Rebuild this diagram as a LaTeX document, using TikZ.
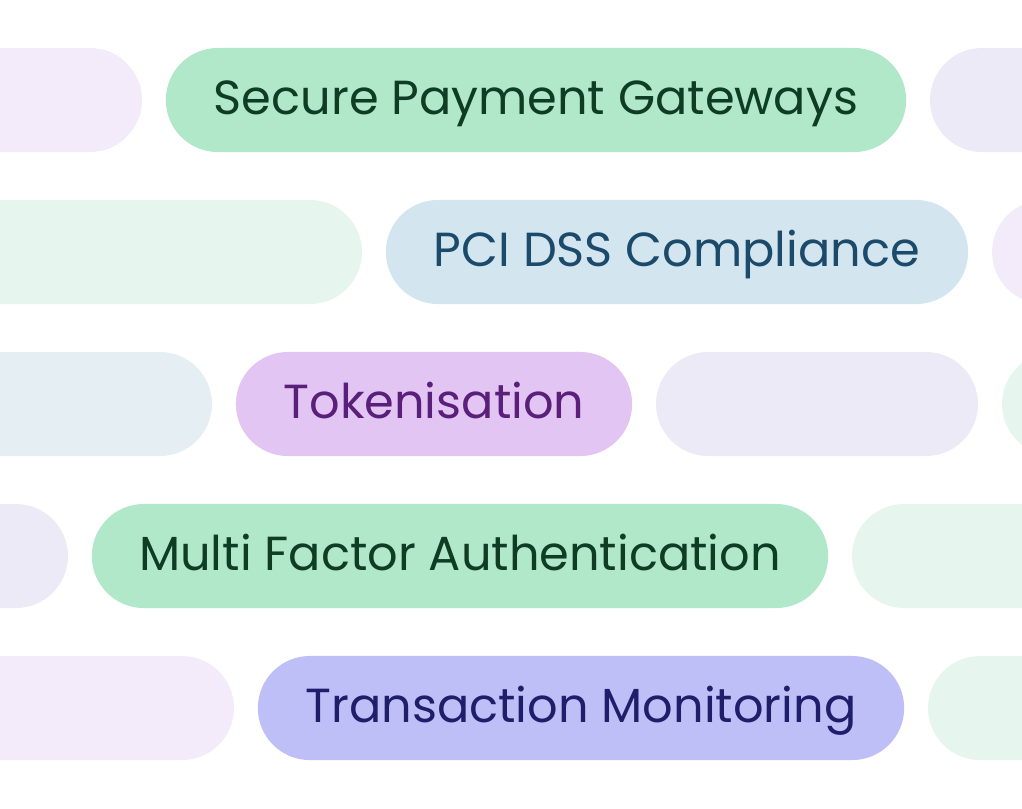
\documentclass[tikz,border=0pt]{standalone}
\usepackage{fontspec}
\setmainfont{Poppins}
\definecolor{mintbg}{HTML}{B0E8C9}\definecolor{minttx}{HTML}{0F3D24}
\definecolor{skybg}{HTML}{D3E6EF}\definecolor{skytx}{HTML}{1B4A6B}
\definecolor{lilacbg}{HTML}{E2C5F2}\definecolor{lilactx}{HTML}{5A1F7A}
\definecolor{indigobg}{HTML}{BFBFF7}\definecolor{indigotx}{HTML}{1E1E6B}
\definecolor{fadelav}{HTML}{F3EBF9}\definecolor{fadeblue}{HTML}{ECEAF7}
\definecolor{fadegreen}{HTML}{E6F5EE}\definecolor{fadesky}{HTML}{E4EEF3}
\tikzset{
  pill/.style={rounded corners=0.52cm, minimum height=1.04cm, inner sep=0pt,
    font=\fontsize{13.6}{15}\selectfont, text height=1.5ex, text depth=0pt},
  ghost/.style={rounded corners=0.52cm}
}
\begin{document}
\begin{tikzpicture}[x=0.01cm,y=-0.01cm]
  \useasboundingbox (0,0) rectangle (1022,808);
  \clip (0,0) rectangle (1022,808);
  % faded pills
  \fill[ghost, fadelav] (-200,48) rectangle (142,152);
  \fill[ghost, fadeblue] (930,48) rectangle (1200,152);
  \fill[ghost, fadegreen] (-200,200) rectangle (362,304);
  \fill[ghost, fadelav] (992,200) rectangle (1200,304);
  \fill[ghost, fadesky] (-200,352) rectangle (212,456);
  \fill[ghost, fadeblue] (656,352) rectangle (978,456);
  \fill[ghost, fadegreen] (1002,352) rectangle (1200,456);
  \fill[ghost, fadeblue] (-200,504) rectangle (68,608);
  \fill[ghost, fadegreen] (852,504) rectangle (1200,608);
  \fill[ghost, fadelav] (-200,656) rectangle (234,760);
  \fill[ghost, fadegreen] (928,656) rectangle (1200,760);
  % main pills
  \node[pill, fill=mintbg, text=minttx, minimum width=7.40cm] (gateways) at (536,100) {Secure Payment Gateways};
  \node[pill, fill=skybg, text=skytx, minimum width=5.82cm] (pcidss) at (677,252) {PCI DSS Compliance};
  \node[pill, fill=lilacbg, text=lilactx, minimum width=3.96cm] (token) at (434,404) {Tokenisation};
  \node[pill, fill=mintbg, text=minttx, minimum width=7.36cm] (mfa) at (460,556) {Multi Factor Authentication};
  \node[pill, fill=indigobg, text=indigotx, minimum width=6.46cm] (monitor) at (581,708) {Transaction Monitoring};
\end{tikzpicture}
\end{document}
